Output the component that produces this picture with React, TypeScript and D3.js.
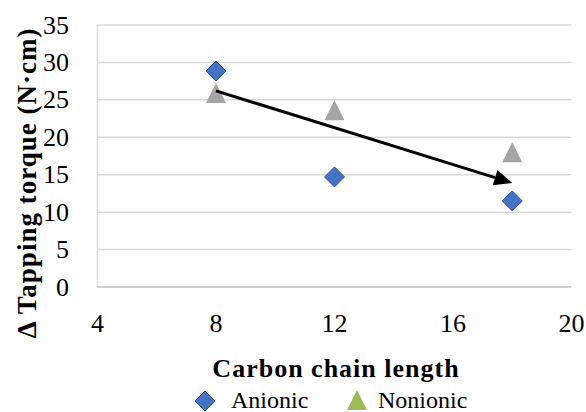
import React from "react";
import * as d3 from "d3";

const anionicX = [8, 12, 18];
const anionicY = [28.85, 14.7, 11.5];
const nonionicX = [8, 12, 18];
const nonionicY = [25.9, 23.6, 18.0];
const xTicks = [4, 8, 12, 16, 20];
const yTicks = [0, 5, 10, 15, 20, 25, 30, 35];
const arrowFrom = [8, 26.2];
const arrowTo = [18, 13.9];

const W = 586, H = 412;
const FONT = "Liberation Serif";

export default function App() {
  const x = d3.scaleLinear().domain([4, 20]).range([97.5, 571.5]);
  const y = d3.scaleLinear().domain([0, 35]).range([287, 25]);
  const diamond = (cx: number, cy: number, r: number) =>
    `M${cx},${cy - r}L${cx + r},${cy}L${cx},${cy + r}L${cx - r},${cy}Z`;
  const tri = (cx: number, cy: number, s: number) =>
    `M${cx},${cy - s / 2}L${cx + s / 2},${cy + s / 2}L${cx - s / 2},${cy + s / 2}Z`;
  const ax0 = x(arrowFrom[0]), ay0 = y(arrowFrom[1]);
  const ax1 = x(arrowTo[0]), ay1 = y(arrowTo[1]);
  const ang = Math.atan2(ay1 - ay0, ax1 - ax0);
  const hl = 18, hw = 8;
  const bx = ax1 - hl * Math.cos(ang), by = ay1 - hl * Math.sin(ang);
  const head = `M${ax1},${ay1}L${bx + hw * Math.sin(ang)},${by - hw * Math.cos(ang)}L${bx - hw * Math.sin(ang)},${by + hw * Math.cos(ang)}Z`;
  return (
    <svg width={W} height={H} style={{ position: "absolute", left: 0, top: 0, background: "#fff" }}>
      {yTicks.filter(t => t > 0).map(t => (
        <line key={t} x1={x(4)} x2={x(20)} y1={y(t)} y2={y(t)} stroke="#D9D9D9" strokeWidth={1.5} />
      ))}
      <line x1={x(4)} x2={x(4)} y1={y(35)} y2={y(0)} stroke="#D9D9D9" strokeWidth={1.5} />
      <line x1={x(4)} x2={x(20)} y1={y(0)} y2={y(0)} stroke="#BFBFBF" strokeWidth={1.5} />
      {yTicks.map(t => (
        <text key={t} x={69} y={y(t) + 8.5} textAnchor="end" fontFamily={FONT} fontSize={26} fill="#000">{t}</text>
      ))}
      {xTicks.map(t => (
        <text key={t} x={x(t)} y={332} textAnchor="middle" fontFamily={FONT} fontSize={26} fill="#000">{t}</text>
      ))}
      <text x={336} y={377} textAnchor="middle" fontFamily={FONT} fontSize={26} fontWeight="bold" letterSpacing={1}>Carbon chain length</text>
      <text transform="translate(36,183) rotate(-90)" textAnchor="middle" fontFamily={FONT} fontSize={27} fontWeight="bold" letterSpacing={1}>Δ Tapping torque (N·cm)</text>
      {nonionicX.map((v, i) => (
        <path key={"n" + i} d={tri(x(v), y(nonionicY[i]), 20)} fill="#A5A5A5" />
      ))}
      {anionicX.map((v, i) => (
        <path key={"a" + i} d={diamond(x(v), y(anionicY[i]), 10)} fill="#4472C4" stroke="#2F528F" strokeWidth={1} />
      ))}
      <line x1={ax0} y1={ay0} x2={bx} y2={by} stroke="#000" strokeWidth={3} />
      <path d={head} fill="#000" />
      <path d={diamond(205, 401, 10)} fill="#4472C4" stroke="#2F528F" strokeWidth={1} />
      <text x={231} y={408} fontFamily={FONT} fontSize={24}>Anionic</text>
      <path d={tri(357, 400, 20)} fill="#9BBB59" />
      <text x={378} y={408} fontFamily={FONT} fontSize={24}>Nonionic</text>
    </svg>
  );
}
